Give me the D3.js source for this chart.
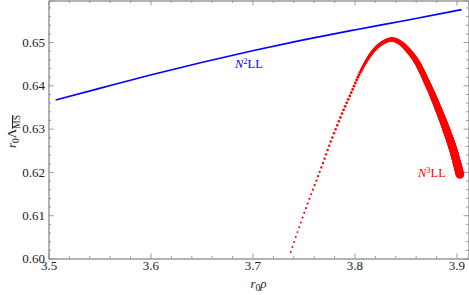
<!DOCTYPE html>
<html>
<head>
<meta charset="UTF-8">
<script src="https://d3js.org/d3.v7.min.js"></script>
<style>
  body { margin: 0; background: #fff; }
  text { font-family: "Liberation Serif", "Times New Roman", serif; }
</style>
</head>
<body>
<div id="chart"></div>
<script>
// ticks
var xTicks = [3.5, 3.6, 3.7, 3.8, 3.9];
var yTicks = [0.60, 0.61, 0.62, 0.63, 0.64, 0.65];

// N2LL curve (blue)
var n2X = [3.507, 3.55, 3.60, 3.65, 3.70, 3.75, 3.80, 3.85, 3.905];
var n2Y = [0.6366, 0.6393, 0.6424, 0.6453, 0.6480, 0.6505, 0.6528, 0.6550, 0.6575];

// N3LL curve (red)
var n3X = [3.7375, 3.7466, 3.7554, 3.7635, 3.7684, 3.7776, 3.7880, 3.7970, 3.8060, 3.8170,
           3.8260, 3.8365, 3.8450, 3.8590, 3.8720, 3.8820, 3.8910, 3.8970, 3.9034];
var n3Y = [0.6015, 0.6078, 0.6135, 0.6185, 0.6216, 0.6275, 0.6336, 0.6384, 0.6432, 0.6475,
           0.6496, 0.6506, 0.6498, 0.6462, 0.6402, 0.6347, 0.6292, 0.6250, 0.6194];

var width = 469, height = 295;
var pL = 48.5, pR = 468.5, pT = 0.5, pB = 258.5;

var svg = d3.select("#chart").append("svg")
  .attr("width", width)
  .attr("height", height);

var x = d3.scaleLinear().domain([3.5, 3.9118]).range([pL, pR]);
var y = d3.scaleLinear().domain([0.60, 0.6596]).range([pB, pT]);

var xMinor = d3.range(3.5, 3.92, 0.02).filter(function(v){ return Math.abs(v*10 - Math.round(v*10)) > 1e-6; });
var yMinor = d3.range(0.60, 0.66, 0.002).filter(function(v){ return Math.abs(v*100 - Math.round(v*100)) > 1e-6; });

function styleAxis(g) {
  g.select(".domain").attr("stroke", "#999");
  g.selectAll(".tick line").attr("stroke", "#999");
  g.selectAll("text").attr("fill", "#222").style("font-size", "13px");
}

// frame with ticks on all sides
svg.append("g").attr("transform", "translate(0," + pB + ")")
  .call(d3.axisBottom(x).tickValues(xTicks).tickSize(-5).tickPadding(2.5).tickFormat(d3.format(".1f")))
  .call(styleAxis);
svg.append("g").attr("transform", "translate(0," + pB + ")")
  .call(d3.axisBottom(x).tickValues(xMinor).tickSize(-2.5).tickFormat(""))
  .call(styleAxis);
svg.append("g").attr("transform", "translate(0," + pT + ")")
  .call(d3.axisTop(x).tickValues(xTicks).tickSize(-5).tickFormat(""))
  .call(styleAxis);
svg.append("g").attr("transform", "translate(0," + pT + ")")
  .call(d3.axisTop(x).tickValues(xMinor).tickSize(-2.5).tickFormat(""))
  .call(styleAxis);
svg.append("g").attr("transform", "translate(" + pL + ",0)")
  .call(d3.axisLeft(y).tickValues(yTicks).tickSize(-5).tickPadding(3.5).tickFormat(d3.format(".2f")))
  .call(styleAxis);
svg.append("g").attr("transform", "translate(" + pL + ",0)")
  .call(d3.axisLeft(y).tickValues(yMinor).tickSize(-2.5).tickFormat(""))
  .call(styleAxis);
svg.append("g").attr("transform", "translate(" + pR + ",0)")
  .call(d3.axisRight(y).tickValues(yTicks).tickSize(-5).tickFormat(""))
  .call(styleAxis);
svg.append("g").attr("transform", "translate(" + pR + ",0)")
  .call(d3.axisRight(y).tickValues(yMinor).tickSize(-2.5).tickFormat(""))
  .call(styleAxis);
svg.selectAll("text").style("font-family", "'Liberation Serif', serif");

var line = d3.line().x(function(d){ return x(d[0]); }).y(function(d){ return y(d[1]); });

// blue curve
svg.append("path")
  .datum(d3.zip(n2X, n2Y))
  .attr("d", line.curve(d3.curveMonotoneX))
  .attr("fill", "none")
  .attr("stroke", "#0000ff")
  .attr("stroke-width", 1.6);

// red curve: dots of growing size placed along the curve through the read points
var n3Path = svg.append("path")
  .datum(d3.zip(n3X, n3Y))
  .attr("d", d3.line().x(function(d){ return x(d[0]); }).y(function(d){ return y(d[1]); })
    .curve(d3.curveCatmullRom.alpha(0.5)))
  .attr("fill", "none")
  .attr("stroke", "none");
var dotW = d3.scaleLinear().domain([3.7375, 3.80, 3.8365, 3.875, 3.9034]).range([1.9, 2.8, 4.4, 6.2, 8.6]);
var dotS = d3.scaleLinear().domain([3.7375, 3.78, 3.80, 3.815]).range([5.3, 4.4, 3.4, 0.8]).clamp(true);
var node = n3Path.node(), L = node.getTotalLength();
var dots = svg.append("g").attr("fill", "#ff0000");
for (var l = 0; ; ) {
  var pt = node.getPointAtLength(Math.min(l, L));
  var xv = x.invert(pt.x);
  dots.append("circle").attr("cx", pt.x).attr("cy", pt.y).attr("r", dotW(xv) / 2);
  if (l >= L) break;
  l = Math.min(l + dotS(xv), L);
}

// curve labels
var t2 = svg.append("text").attr("x", 235).attr("y", 68).attr("fill", "#0000ff").style("font-size", "12.5px");
t2.append("tspan").style("font-style", "italic").text("N");
t2.append("tspan").attr("dy", -4.5).style("font-size", "8.5px").text("2");
t2.append("tspan").attr("dy", 4.5).text("LL");

var t3 = svg.append("text").attr("x", 418).attr("y", 177).attr("fill", "#ff0000").style("font-size", "12.5px");
t3.append("tspan").style("font-style", "italic").text("N");
t3.append("tspan").attr("dy", -4.5).style("font-size", "8.5px").text("3");
t3.append("tspan").attr("dy", 4.5).text("LL");

// axis labels
var xl = svg.append("text").attr("x", (pL + pR) / 2).attr("y", 288)
  .attr("text-anchor", "middle").attr("fill", "#222").style("font-size", "13px");
xl.append("tspan").style("font-style", "italic").text("r");
xl.append("tspan").attr("dy", 3).style("font-size", "9.5px").text("0");
xl.append("tspan").attr("dy", -3).style("font-style", "italic").text("ρ");

var yl = svg.append("text").attr("transform", "translate(16," + ((pT + pB) / 2 + 2) + ") rotate(-90)")
  .attr("text-anchor", "middle").attr("fill", "#222").style("font-size", "13px");
yl.append("tspan").style("font-style", "italic").text("r");
yl.append("tspan").attr("dy", 3).style("font-size", "9.5px").text("0");
yl.append("tspan").attr("dy", -3).text("Λ");
yl.append("tspan").attr("dy", 4).style("font-size", "9.5px").style("text-decoration", "overline").text("MS");
</script>
</body>
</html>
